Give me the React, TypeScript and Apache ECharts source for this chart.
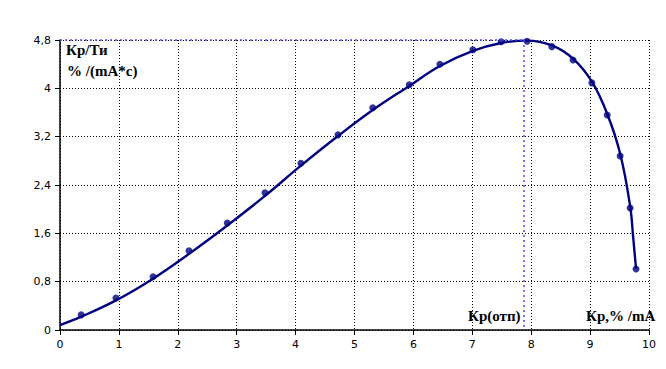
import React, { useEffect, useRef } from "react";
import * as echarts from "echarts";

// Measured points (Kp, Kp/Ti)
const pointX = [0.36, 0.95, 1.58, 2.19, 2.84, 3.48, 4.09, 4.72, 5.31, 5.93, 6.45, 7.01, 7.49, 7.93, 8.35, 8.71, 9.03, 9.29, 9.51, 9.68, 9.78];
const pointY = [0.25, 0.53, 0.88, 1.31, 1.77, 2.27, 2.76, 3.23, 3.68, 4.06, 4.40, 4.64, 4.77, 4.78, 4.69, 4.47, 4.09, 3.56, 2.88, 2.02, 1.01];

// Smooth fitted curve
const curveX = [0, 0.36, 0.95, 1.58, 2.19, 2.84, 3.48, 4.09, 4.72, 5.31, 5.93, 6.45, 7.01, 7.49, 7.93, 8.35, 8.71, 9.03, 9.29, 9.51, 9.68, 9.73, 9.78];
const curveY = [0.08, 0.22, 0.49, 0.85, 1.26, 1.73, 2.22, 2.72, 3.21, 3.64, 4.04, 4.37, 4.62, 4.75, 4.79, 4.71, 4.49, 4.11, 3.58, 2.92, 2.05, 1.55, 1.01];

const kpOpt = 7.88;
const kpOptValue = 4.8;

const xTicks = { min: 0, max: 10, interval: 1 };
const yTicks = { min: 0, max: 4.8, interval: 0.8 };

const labelYTitle1 = "Кр/Ти";
const labelYTitle2 = "% /(mA*c)";
const labelOpt = "Кр(отп)";
const labelXTitle = "Кр,% /mA";

export default function App() {
  const ref = useRef<HTMLDivElement>(null);
  useEffect(() => {
    if (!ref.current) return;
    const chart = echarts.init(ref.current, null, { renderer: "svg" });
    const titleFont = { fontFamily: "Liberation Serif", fontWeight: "bold", fontSize: 15, fill: "#000" };
    chart.setOption({
      animation: false,
      backgroundColor: "#fff",
      grid: { left: 60, right: 17, top: 40, bottom: 39 },
      xAxis: {
        type: "value",
        min: xTicks.min,
        max: xTicks.max,
        interval: xTicks.interval,
        axisLine: { show: true, onZero: false, lineStyle: { color: "#000", width: 1.5 } },
        axisTick: { show: true, length: 5, lineStyle: { color: "#000" } },
        axisLabel: { color: "#000", fontFamily: "DejaVu Sans", fontSize: 11, margin: 9 },
        splitLine: { show: true, lineStyle: { color: "#000", type: [1, 2], width: 1 } },
      },
      yAxis: {
        type: "value",
        min: yTicks.min,
        max: yTicks.max,
        interval: yTicks.interval,
        axisLine: { show: true, lineStyle: { color: "#000", width: 1.5 } },
        axisTick: { show: true, length: 5, lineStyle: { color: "#000" } },
        axisLabel: {
          color: "#000",
          fontFamily: "DejaVu Sans",
          fontSize: 11,
          margin: 9,
          formatter: (v: number) => String(Math.round(v * 10) / 10).replace(".", ","),
        },
        splitLine: { show: true, lineStyle: { color: "#000", type: [1, 2], width: 1 } },
      },
      series: [
        {
          type: "line",
          data: curveX.map((x, i) => [x, curveY[i]]),
          smooth: 0.4,
          showSymbol: false,
          symbol: "none",
          lineStyle: { color: "#000080", width: 2.4 },
          z: 3,
          markLine: {
            silent: true,
            symbol: "none",
            label: { show: false },
            lineStyle: { color: "#4a4aff", type: [2, 3], width: 1.5 },
            data: [
              [{ coord: [0, kpOptValue] }, { coord: [kpOpt, kpOptValue] }],
              [{ coord: [kpOpt, kpOptValue] }, { coord: [kpOpt, 0] }],
            ],
          },
        },
        {
          type: "scatter",
          data: pointX.map((x, i) => [x, pointY[i]]),
          symbol: "circle",
          symbolSize: 7,
          itemStyle: { color: "#000080" },
          z: 4,
        },
      ],
      graphic: [
        { type: "text", left: 66, top: 42, style: { text: labelYTitle1, ...titleFont } },
        { type: "text", left: 67, top: 63, style: { text: labelYTitle2, ...titleFont } },
        { type: "text", left: 468, top: 308, style: { text: labelOpt, ...titleFont } },
        { type: "text", left: 586, top: 308, style: { text: labelXTitle, ...titleFont } },
      ],
    });
    return () => chart.dispose();
  }, []);
  return <div ref={ref} style={{ width: 666, height: 369, position: "absolute", left: 0, top: 0 }} />;
}
